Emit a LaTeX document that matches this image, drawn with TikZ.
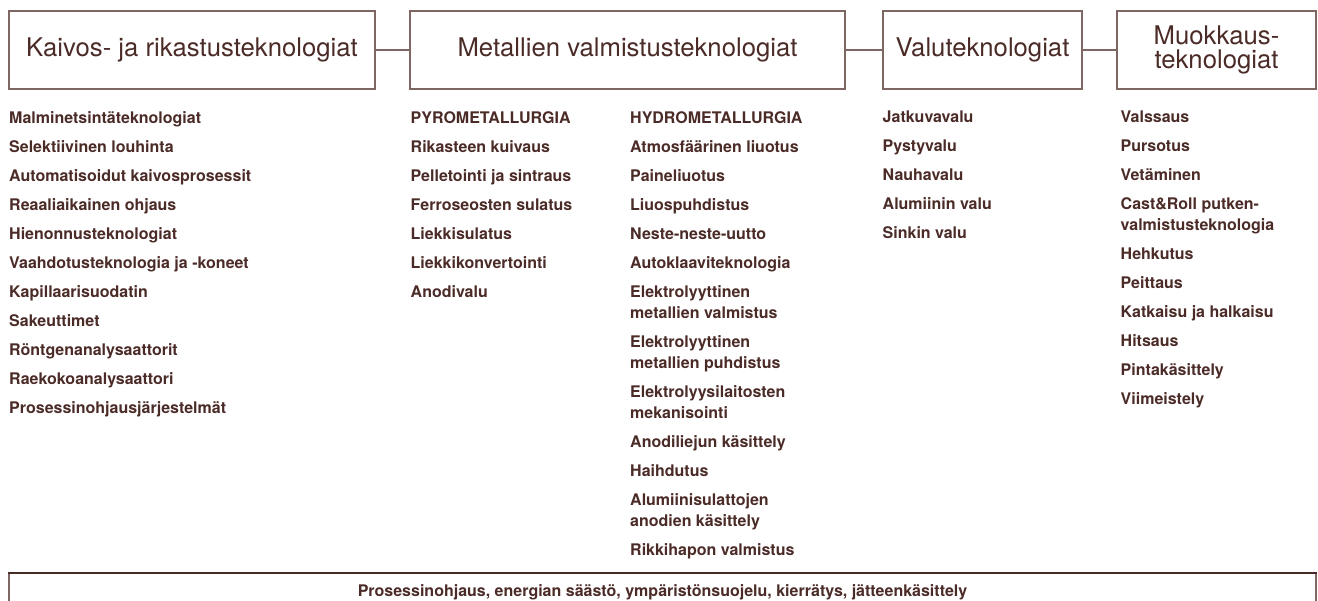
\documentclass[tikz,border=0pt]{standalone}
\usepackage{fontspec}
\setmainfont{TeX Gyre Heros}
\usetikzlibrary{positioning}
\definecolor{ctext}{HTML}{4B2B27}
\definecolor{cline}{HTML}{7E6663}
\definecolor{cbar}{HTML}{4B2B27}

\begin{document}
\begin{tikzpicture}[
  x=1pt, y=-1pt,
  hdr/.style={draw=cline, line width=1.1pt, minimum height=78pt, inner sep=0pt,
              align=center, text=ctext, font=\fontsize{25.7}{24}\selectfont},
  lst/.style={anchor=north west, inner sep=0pt, align=left, text=ctext,
              font=\bfseries\fontsize{16}{21}\selectfont},
  link/.style={draw=cline, line width=1.1pt},
  bar/.style={draw=cline, line width=1.1pt, inner sep=0pt, text=ctext,
              font=\bfseries\fontsize{16}{21}\selectfont},
]
\useasboundingbox (0,0) rectangle (1318,601);

%% ---------- header boxes ----------
\node[hdr, minimum width=366pt] (kaivos) at (192,50)
  {Kaivos- ja rikastusteknologiat};
\node[hdr, minimum width=435pt] (metalli) at (627.5,50)
  {Metallien valmistusteknologiat};
\node[hdr, minimum width=199pt] (valu) at (982.5,50)
  {Valuteknologiat};
\node[hdr, minimum width=199pt] (muokkaus) at (1216.5,50)
  {Muokkaus-\\teknologiat};

\draw[link] (kaivos.east) -- (metalli.west);
\draw[link] (metalli.east) -- (valu.west);
\draw[link] (valu.east) -- (muokkaus.west);

%% ---------- item lists ----------
\node[lst] (kaivoslista) at (9,111) {
  Malminetsintäteknologiat\\[8pt]
  Selektiivinen louhinta\\[8pt]
  Automatisoidut kaivosprosessit\\[8pt]
  Reaaliaikainen ohjaus\\[8pt]
  Hienonnusteknologiat\\[8pt]
  Vaahdotusteknologia ja -koneet\\[8pt]
  Kapillaarisuodatin\\[8pt]
  Sakeuttimet\\[8pt]
  Röntgenanalysaattorit\\[8pt]
  Raekokoanalysaattori\\[8pt]
  Prosessinohjausjärjestelmät};

\node[lst] (pyro) at (410.5,111) {
  PYROMETALLURGIA\\[8pt]
  Rikasteen kuivaus\\[8pt]
  Pelletointi ja sintraus\\[8pt]
  Ferroseosten sulatus\\[8pt]
  Liekkisulatus\\[8pt]
  Liekkikonvertointi\\[8pt]
  Anodivalu};

\node[lst] (hydro) at (630,111) {
  HYDROMETALLURGIA\\[8pt]
  Atmosfäärinen liuotus\\[8pt]
  Paineliuotus\\[8pt]
  Liuospuhdistus\\[8pt]
  Neste-neste-uutto\\[8pt]
  Autoklaaviteknologia\\[8pt]
  Elektrolyyttinen\\metallien valmistus\\[8pt]
  Elektrolyyttinen\\metallien puhdistus\\[8pt]
  Elektrolyysilaitosten\\mekanisointi\\[8pt]
  Anodiliejun käsittely\\[8pt]
  Haihdutus\\[8pt]
  Alumiinisulattojen\\anodien käsittely\\[8pt]
  Rikkihapon valmistus};

\node[lst] (valulista) at (882.5,111) {
  Jatkuvavalu\\[8pt]
  Pystyvalu\\[8pt]
  Nauhavalu\\[8pt]
  Alumiinin valu\\[8pt]
  Sinkin valu};

\node[lst] (muokkauslista) at (1120.5,111) {
  Valssaus\\[8pt]
  Pursotus\\[8pt]
  Vetäminen\\[8pt]
  Cast\&Roll putken-\\valmistusteknologia\\[8pt]
  Hehkutus\\[8pt]
  Peittaus\\[8pt]
  Katkaisu ja halkaisu\\[8pt]
  Hitsaus\\[8pt]
  Pintakäsittely\\[8pt]
  Viimeistely};

%% ---------- common bar ----------
\node[bar, anchor=north, minimum width=1307pt, minimum height=38pt] (yhteiset)
  at (662.5,573)
  {Prosessinohjaus, energian säästö, ympäristönsuojelu, kierrätys, jätteenkäsittely};
\draw[cbar, line width=2pt] (yhteiset.north west) -- (yhteiset.north east);

\end{tikzpicture}
\end{document}
